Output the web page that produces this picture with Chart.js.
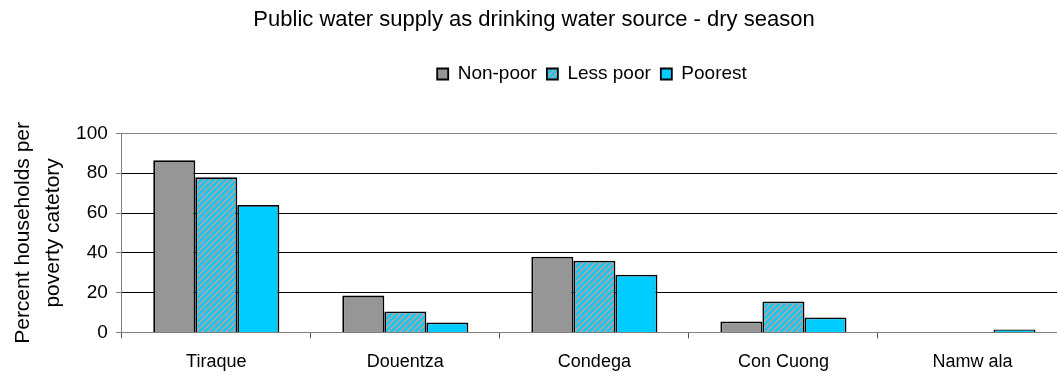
<!DOCTYPE html>
<html>
<head>
<meta charset="utf-8">
<script src="https://cdn.jsdelivr.net/npm/chart.js@4/dist/chart.umd.min.js"></script>
<style>
  html, body { margin: 0; padding: 0; background: #fff; overflow: hidden; }
  #wrap { width: 1075px; height: 386px; }
</style>
</head>
<body>
<div id="wrap"><canvas id="grafico" width="1075" height="386"></canvas></div>
<script>
const categorias = ['Tiraque', 'Douentza', 'Condega', 'Con Cuong', 'Namw ala'];
const naoPobres = [86.5, 18.5, 38, 5.5, 0];
const menosPobres = [78, 10.5, 36, 15.5, 0];
const maisPobres = [64, 5, 29, 7.5, 1.5];
const ticksY = [0, 20, 40, 60, 80, 100];

const fonte = 'Liberation Sans, Arial, sans-serif';

// listras diagonais cinza/ciano
function criarHachura() {
  const c = document.createElement('canvas');
  c.width = 6; c.height = 6;
  const g = c.getContext('2d');
  g.fillStyle = '#00ccff';
  g.fillRect(0, 0, 6, 6);
  g.strokeStyle = '#a6a6a6';
  g.lineWidth = 2;
  g.beginPath();
  g.moveTo(-3, 3); g.lineTo(3, -3);
  g.moveTo(0, 6); g.lineTo(6, 0);
  g.moveTo(3, 9); g.lineTo(9, 3);
  g.stroke();
  return g.createPattern(c, 'repeat');
}

const hachura = criarHachura();

// centraliza titulo e legenda onde estao no original
const posicionar = {
  id: 'posicionar',
  afterLayout(chart) {
    const t = chart.titleBlock;
    if (t) {
      const dx = 534 - (t.left + t.right) / 2;
      t.left += dx; t.right += dx;
    }
    const lg = chart.legend;
    if (lg) {
      const dx = 592 - (lg.left + lg.right) / 2;
      lg.left += dx; lg.right += dx;
      const dy = 54.5 - lg.top;
      lg.top += dy; lg.bottom += dy;
    }
  }
};

const ctx = document.getElementById('grafico').getContext('2d');
new Chart(ctx, {
  type: 'bar',
  data: {
    labels: categorias,
    datasets: [
      { label: 'Non-poor', data: naoPobres, backgroundColor: '#969696', borderColor: '#000', borderWidth: 1.8 },
      { label: 'Less poor', data: menosPobres, backgroundColor: hachura, borderColor: '#000', borderWidth: 1.8 },
      { label: 'Poorest', data: maisPobres, backgroundColor: '#00ccff', borderColor: '#000', borderWidth: 1.8 }
    ]
  },
  options: {
    responsive: false,
    animation: false,
    layout: { padding: { left: 4, right: 8, top: 7, bottom: 0 } },
    datasets: { bar: { categoryPercentage: 0.667, barPercentage: 1.0, borderSkipped: 'start' } },
    plugins: {
      title: {
        display: true,
        text: 'Public water supply as drinking water source - dry season',
        color: '#000',
        font: { family: fonte, size: 22, weight: 'normal' },
        padding: { top: 0, bottom: 61 }
      },
      legend: {
        position: 'top',
        labels: {
          color: '#000',
          font: { family: fonte, size: 19 },
          boxWidth: 11,
          boxHeight: 11,
          padding: 10
        }
      },
      tooltip: { enabled: false }
    },
    scales: {
      x: {
        offset: true,
        grid: { offset: true, drawOnChartArea: false, tickLength: 6, color: '#000', tickColor: '#555' },
        border: { color: '#808080', width: 1 },
        ticks: { color: '#000', font: { family: fonte, size: 18 }, padding: 13 }
      },
      y: {
        min: 0,
        max: 100,
        afterBuildTicks(axis) { axis.ticks = ticksY.map(v => ({ value: v })); },
        grid: {
          color: c => (c.tick && c.tick.value === 100 ? '#808080' : '#000'),
          lineWidth: 1,
          tickLength: 6,
          tickColor: '#808080'
        },
        border: { color: '#808080', width: 1 },
        ticks: { color: '#000', font: { family: fonte, size: 19 }, padding: 8 },
        title: {
          display: true,
          text: ['Percent households per', 'poverty catetory'],
          color: '#000',
          font: { family: fonte, size: 21, lineHeight: 1.43 },
          padding: { top: 4, bottom: 0 }
        }
      }
    }
  },
  plugins: [posicionar]
});
</script>
</body>
</html>
